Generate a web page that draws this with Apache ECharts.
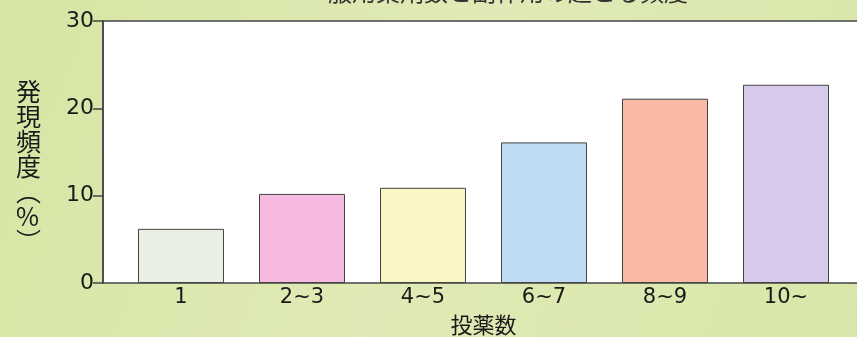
<!DOCTYPE html>
<html><head><meta charset="utf-8">
<script src="https://cdn.jsdelivr.net/npm/echarts@6/dist/echarts.min.js"></script>
<style>html,body{margin:0;padding:0;background:#dce9ae;}#c{width:857px;height:337px;}</style>
</head><body><div id="c"></div>
<script>
const categories = ['1', '2~3', '4~5', '6~7', '8~9', '10~'];
const frequency = [6.2, 10.2, 10.9, 16.1, 21.1, 22.7];
const yTicks = [0, 10, 20, 30];
const barColors = ['#e9efe4', '#f6b9e0', '#fbf7c4', '#bcdcf4', '#f8baa2', '#d6c9ea'];
const titleText = '服用薬剤数と副作用の起こる頻度';
const yName = ['発', '現', '頻', '度', '︵', '%', '︶'];
const xName = '投薬数';

const chart = echarts.init(document.getElementById('c'));
const numFont = 'DejaVu Sans';
const jpFont = '"Noto Sans CJK JP"';
chart.setOption({
  backgroundColor: {
    type: 'linear', x: 0, y: 0, x2: 1, y2: 1,
    colorStops: [{offset: 0, color: '#d6e6a4'}, {offset: 0.5, color: '#e0eab6'}, {offset: 1, color: '#d8e7a9'}]
  },
  animation: false,
  title: [
    {text: titleText, left: 503, top: -25, textAlign: 'center',
     textStyle: {fontFamily: jpFont, fontSize: 24, fontWeight: 'normal', color: '#333'}},
    {text: yName.join('\n'), left: 11, top: 74,
     textStyle: {fontFamily: jpFont, fontSize: 25, fontWeight: 'normal', color: '#1a1a1a', lineHeight: 25}}
  ],
  grid: [
    {left: 103, right: -3, top: 21, bottom: 54, outerBoundsMode: 'none', containLabel: false,
     show: true, backgroundColor: '#ffffff', borderColor: '#444', borderWidth: 1.5},
    {left: 120.5, width: 726, top: 21, bottom: 54, outerBoundsMode: 'none', containLabel: false}
  ],
  xAxis: [
    {gridIndex: 0, type: 'value', show: false, min: 0, max: 1},
    {gridIndex: 1, type: 'category', data: categories, boundaryGap: true,
     axisLine: {show: false}, axisTick: {show: false},
     axisLabel: {fontFamily: numFont, fontSize: 21, color: '#1a1a1a', margin: 4},
     name: xName, nameLocation: 'middle', nameGap: 31,
     nameTextStyle: {fontFamily: jpFont, fontSize: 22, color: '#1a1a1a'}}
  ],
  yAxis: [
    {gridIndex: 0, type: 'value', min: 0, max: 30, interval: 10, offset: 6,
     axisLine: {show: true, lineStyle: {color: '#444', width: 1.5}},
     axisTick: {show: true, length: 10, lineStyle: {color: '#444', width: 1.5}},
     splitLine: {show: false},
     axisLabel: {fontFamily: numFont, fontSize: 22, color: '#1a1a1a', margin: 3,
       formatter: v => yTicks.includes(v) ? String(v) : ''}},
    {gridIndex: 1, type: 'value', min: 0, max: 30, show: false}
  ],
  series: [{
    type: 'bar', xAxisIndex: 1, yAxisIndex: 1, barWidth: 86,
    data: frequency.map((v, i) => ({value: v, itemStyle: {color: barColors[i]}})),
    itemStyle: {borderColor: '#444', borderWidth: 1}
  }]
});
</script></body></html>
